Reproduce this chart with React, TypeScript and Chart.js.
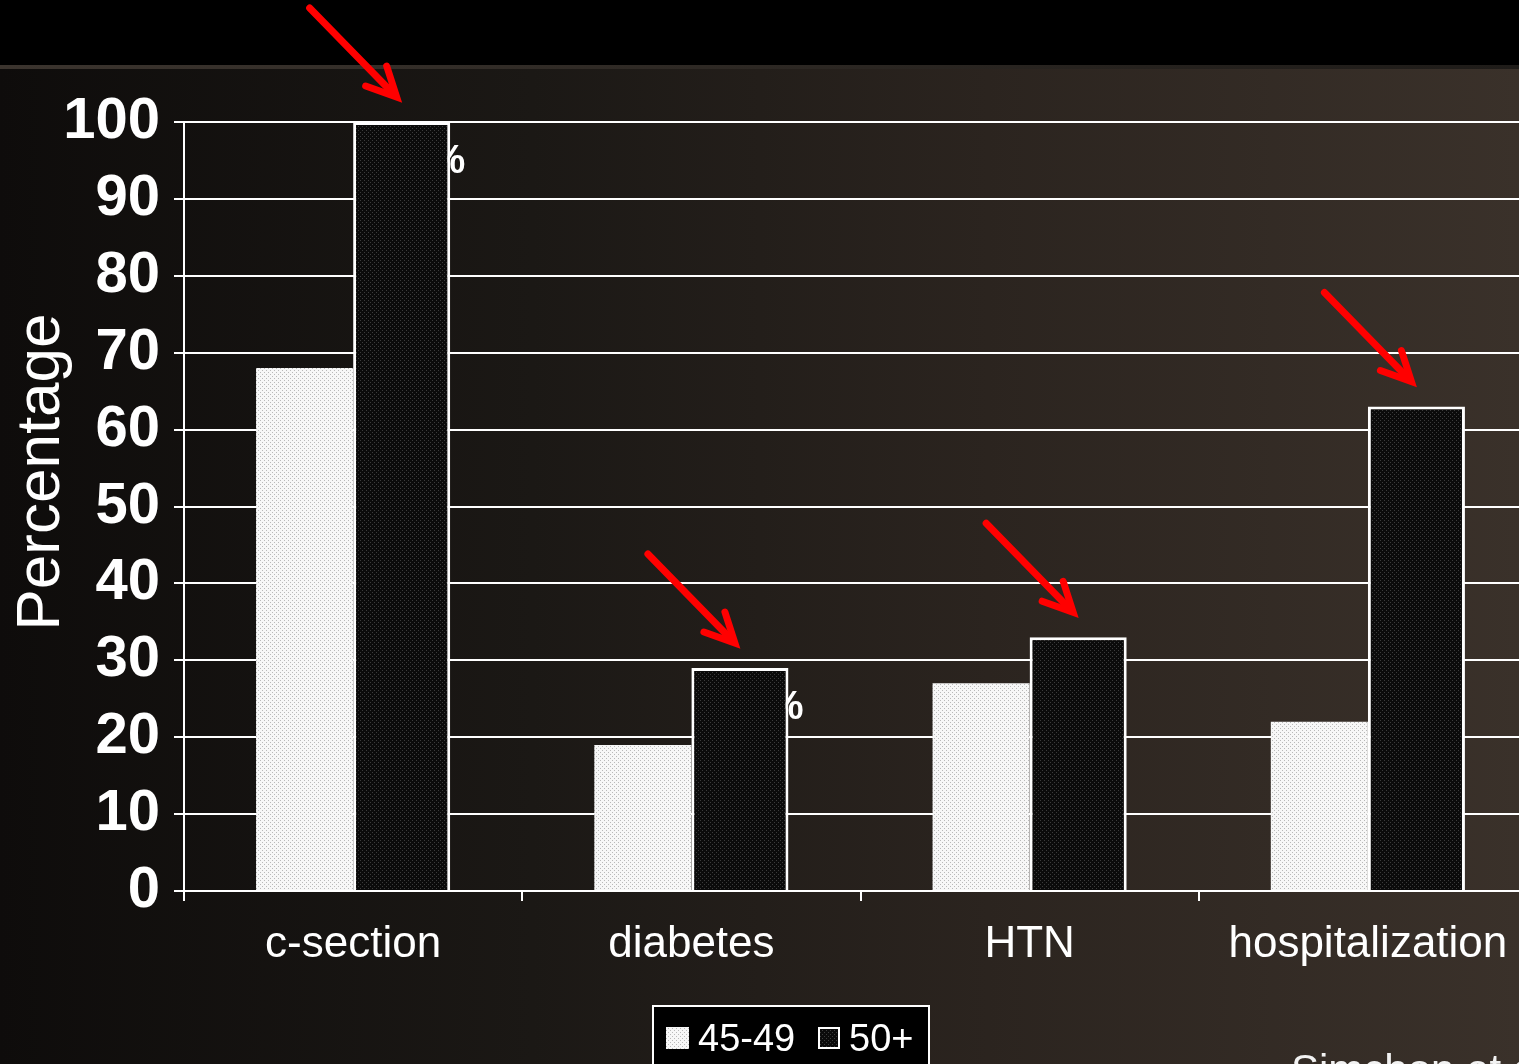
import React, { useEffect, useRef } from "react";
import { Chart, registerables } from "chart.js";

Chart.register(...registerables);

// Outcomes by maternal age group (%)
const categories = ["c-section", "diabetes", "HTN", "hospitalization"];
const seriesLabels = ["45-49", "50+"];
const valuesAge45to49 = [68, 19, 27, 22];
const valuesAge50plus = [100, 29, 33, 63];
const yTickStep = 10;
const yMax = 100;
const yAxisTitle = "Percentage";
const citation = "Simchon et al.";
// Categories whose percentage note sits partly behind the 50+ bar
const notedCategories = ["c-section", "diabetes"];

const FONT = '"Liberation Sans", Arial, sans-serif';

function makePattern(base: string, dot: string): CanvasPattern | string {
  const c = document.createElement("canvas");
  c.width = 4;
  c.height = 4;
  const g = c.getContext("2d");
  if (!g) return base;
  g.fillStyle = base;
  g.fillRect(0, 0, 4, 4);
  g.fillStyle = dot;
  g.fillRect(0, 0, 1, 1);
  g.fillRect(2, 2, 1, 1);
  const ctx = document.createElement("canvas").getContext("2d");
  return (ctx && ctx.createPattern(c, "repeat")) || base;
}

export default function App() {
  const canvasRef = useRef<HTMLCanvasElement | null>(null);

  useEffect(() => {
    const canvas = canvasRef.current;
    if (!canvas) return;

    const lightFill = makePattern("#f7f7f7", "#b9b9b9");
    const darkFill = makePattern("#0b0b0b", "#3c3c3c");

    const slideBackground = {
      id: "slideBackground",
      beforeDraw(chart: any) {
        const { ctx, width, height } = chart;
        ctx.save();
        const g = ctx.createLinearGradient(0, 0, 1519, 0);
        g.addColorStop(0, "#0e0c0b");
        g.addColorStop(0.35, "#1b1815");
        g.addColorStop(0.65, "#2b241f");
        g.addColorStop(1, "#3a312a");
        ctx.fillStyle = g;
        ctx.fillRect(0, 0, width, height);
        ctx.fillStyle = "#000000";
        ctx.fillRect(0, 0, width, 65);
        const band = ctx.createLinearGradient(0, 0, 1519, 0);
        band.addColorStop(0, "#3b342e");
        band.addColorStop(1, "#1f1c19");
        ctx.fillStyle = band;
        ctx.fillRect(0, 65, width, 4);

        // vertical axis title
        ctx.fillStyle = "#ffffff";
        ctx.font = `62px ${FONT}`;
        ctx.textAlign = "center";
        ctx.textBaseline = "alphabetic";
        ctx.translate(59, 472);
        ctx.rotate(-Math.PI / 2);
        ctx.fillText(yAxisTitle, 0, 0);
        ctx.restore();
      },
    };

    const coveredNotes = {
      id: "coveredNotes",
      beforeDatasetsDraw(chart: any) {
        const { ctx } = chart;
        const meta = chart.getDatasetMeta(1);
        ctx.save();
        ctx.fillStyle = "#ffffff";
        ctx.font = `bold 40px ${FONT}`;
        ctx.textAlign = "right";
        ctx.textBaseline = "top";
        notedCategories.forEach((name) => {
          const bar = meta.data[categories.indexOf(name)] as any;
          if (!bar) return;
          ctx.fillText("%", bar.x + bar.width / 2 + 15, bar.y + 20);
        });
        ctx.restore();
      },
    };

    const arrows = {
      id: "arrows",
      afterDatasetsDraw(chart: any) {
        const { ctx } = chart;
        const meta = chart.getDatasetMeta(1);
        ctx.save();
        ctx.strokeStyle = "#ff0000";
        ctx.lineWidth = 7;
        meta.data.forEach((bar: any) => {
          const tx = bar.x - 4;
          const ty = bar.y - 24;
          ctx.lineCap = "round";
          ctx.beginPath();
          ctx.moveTo(tx - 88, ty - 90);
          ctx.lineTo(tx - 7, ty - 7);
          ctx.stroke();
          ctx.lineJoin = "miter";
          ctx.beginPath();
          ctx.moveTo(tx - 32, ty - 12);
          ctx.lineTo(tx - 1, ty - 1);
          ctx.lineTo(tx - 11, ty - 32);
          ctx.stroke();
        });
        ctx.restore();
      },
    };

    const boxedLegend = {
      id: "boxedLegend",
      afterDraw(chart: any) {
        const { ctx } = chart;
        ctx.save();
        ctx.fillStyle = "#000000";
        ctx.fillRect(652, 1005, 278, 80);
        ctx.strokeStyle = "#ffffff";
        ctx.lineWidth = 2;
        ctx.strokeRect(653, 1006, 276, 80);

        ctx.font = `38px ${FONT}`;
        ctx.textAlign = "left";
        ctx.textBaseline = "alphabetic";

        ctx.fillStyle = lightFill as any;
        ctx.fillRect(666, 1027, 23, 22);
        ctx.fillStyle = "#ffffff";
        ctx.fillText(seriesLabels[0], 698, 1051);

        ctx.fillStyle = darkFill as any;
        ctx.fillRect(818, 1027, 22, 22);
        ctx.strokeStyle = "#ffffff";
        ctx.lineWidth = 2;
        ctx.strokeRect(819, 1028, 20, 20);
        ctx.fillStyle = "#ffffff";
        ctx.fillText(seriesLabels[1], 849, 1051);

        ctx.font = `42px ${FONT}`;
        ctx.fillStyle = "#f2f2f2";
        ctx.fillText(citation, 1291, 1084);
        ctx.restore();
      },
    };

    const chart = new Chart(canvas, {
      type: "bar",
      data: {
        labels: categories,
        datasets: [
          {
            label: seriesLabels[0],
            data: valuesAge45to49,
            backgroundColor: lightFill as any,
            borderWidth: 0,
          },
          {
            label: seriesLabels[1],
            data: valuesAge50plus,
            backgroundColor: darkFill as any,
            borderColor: "#ffffff",
            borderWidth: 3,
          },
        ],
      },
      options: {
        responsive: false,
        animation: false,
        devicePixelRatio: 1,
        layout: { padding: { top: 122, left: 0, right: 3, bottom: 0 } },
        datasets: { bar: { categoryPercentage: 0.574, barPercentage: 1 } },
        plugins: {
          legend: { display: false },
          tooltip: { enabled: false },
        },
        scales: {
          x: {
            afterFit(scale: any) {
              scale.height = 173;
            },
            grid: {
              display: true,
              drawOnChartArea: false,
              drawTicks: true,
              tickLength: 10,
              color: "#ffffff",
              lineWidth: 2,
              offset: true,
            },
            border: { display: true, color: "#ffffff", width: 2 },
            ticks: {
              color: "#ffffff",
              font: { family: FONT, size: 44 },
              padding: 17,
              maxRotation: 0,
            },
          },
          y: {
            min: 0,
            max: yMax,
            afterFit(scale: any) {
              scale.width = 184;
            },
            grid: {
              color: "#ffffff",
              lineWidth: 2,
              tickLength: 10,
            },
            border: { display: true, color: "#ffffff", width: 2 },
            ticks: {
              stepSize: yTickStep,
              color: "#ffffff",
              font: { family: FONT, size: 58, weight: "bold" },
              padding: 14,
            },
          },
        },
      },
      plugins: [slideBackground, coveredNotes, arrows, boxedLegend],
    });

    return () => chart.destroy();
  }, []);

  return (
    <div
      style={{
        position: "fixed",
        left: 0,
        top: 0,
        width: 1519,
        height: 1064,
        overflow: "hidden",
        background: "#000",
      }}
    >
      <canvas ref={canvasRef} width={1540} height={1064} style={{ display: "block" }} />
    </div>
  );
}
